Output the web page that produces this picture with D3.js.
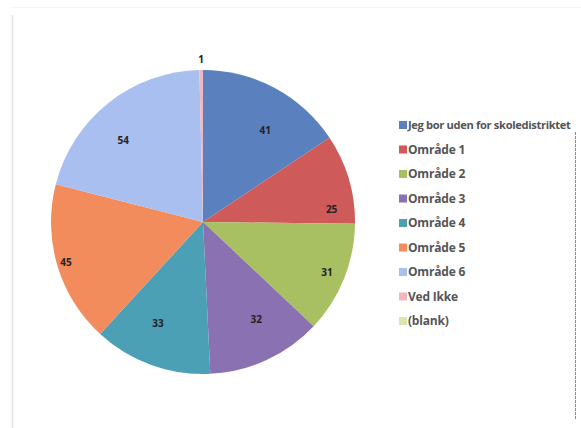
<!DOCTYPE html>
<html>
<head>
<meta charset="utf-8">
<script src="https://cdn.jsdelivr.net/npm/d3@7/dist/d3.min.js"></script>
<style>
  body { margin: 0; background: #fff; }
  svg { display: block; }
</style>
</head>
<body>
<svg id="chart" width="581" height="428"></svg>
<script>
// Data
const categories = ['Jeg bor uden for skoledistriktet', 'Område 1', 'Område 2', 'Område 3',
    'Område 4', 'Område 5', 'Område 6', 'Ved Ikke', '(blank)'];
const values = [41, 25, 31, 32, 33, 45, 54, 1, 0];
const colors = ['#5a80be', '#ce5b5a', '#a9c062', '#8a72b2', '#4ba0b6', '#f28c5c', '#a9bff0', '#f0b7c0', '#d9e8b2'];

// Label placement (Excel "best fit" look): radius fraction and angle nudge in degrees
const labelRadius = [0.73, 0.85, 0.88, 0.73, 0.73, 0.94, 0.75, 1.07, 1];
const labelNudge = [6, 11, 0, -4, 4, 0, -6, 0, 0];

const svg = d3.select('#chart');

// Frame bits from the scan
svg.append('line').attr('x1', 12.5).attr('x2', 12.5).attr('y1', 15).attr('y2', 428)
    .attr('stroke', '#e4e4e4').attr('stroke-width', 1.5);
svg.append('line').attr('x1', 10).attr('x2', 581).attr('y1', 7.5).attr('y2', 7.5)
    .attr('stroke', '#f6f6f6').attr('stroke-width', 1);
svg.append('line').attr('x1', 575.5).attr('x2', 575.5).attr('y1', 132).attr('y2', 420)
    .attr('stroke', '#8a8a8a').attr('stroke-width', 1).attr('stroke-dasharray', '3,1');

// Pie
const cx = 203, cy = 222, radius = 152;
const g = svg.append('g').attr('transform', `translate(${cx},${cy})`);

const pie = d3.pie().sort(null).value(d => d.value);
const arcs = pie(categories.map((c, i) => ({ name: c, value: values[i], color: colors[i], idx: i })));

const arc = d3.arc().innerRadius(0).outerRadius(radius);

g.selectAll('path').data(arcs.filter(d => d.value > 0)).enter().append('path')
    .attr('d', arc)
    .attr('fill', d => d.data.color);

// Data labels
function labelPos(d) {
    const a = (d.startAngle + d.endAngle) / 2 + labelNudge[d.data.idx] * Math.PI / 180;
    const r = radius * labelRadius[d.data.idx];
    return [Math.sin(a) * r, -Math.cos(a) * r];
}

g.selectAll('text.lbl').data(arcs.filter(d => d.value > 0)).enter().append('text')
    .attr('class', 'lbl')
    .attr('transform', d => `translate(${labelPos(d)})`)
    .attr('text-anchor', 'middle')
    .attr('dy', '0.35em')
    .attr('font-family', 'Open Sans, sans-serif')
    .attr('font-weight', 'bold')
    .attr('font-size', 10)
    .attr('fill', '#222')
    .text(d => d.value);

// Legend
const legendX = 399;
const legend = svg.append('g').attr('transform', `translate(${legendX},125)`);
const rowH = 24.5;
const items = legend.selectAll('g').data(categories).enter().append('g')
    .attr('transform', (d, i) => `translate(0,${i * rowH})`);
items.append('rect').attr('x', 0).attr('y', -4).attr('width', 8).attr('height', 8)
    .attr('fill', (d, i) => colors[i]);
items.append('text').attr('x', 9).attr('dy', '0.35em')
    .attr('font-family', 'Open Sans, sans-serif')
    .attr('font-weight', 'bold')
    .attr('font-size', 12)
    .attr('letter-spacing', -0.2)
    .attr('fill', '#555')
    .text(d => d)
    .each(function() {
        // shrink a label that would run past the right edge
        const avail = 581 - legendX - 9 - 5;
        const w = this.getComputedTextLength();
        if (w > avail) {
            d3.select(this).attr('font-size', (12 * avail / w).toFixed(2)).attr('letter-spacing', -0.35);
        }
    });
</script>
</body>
</html>
